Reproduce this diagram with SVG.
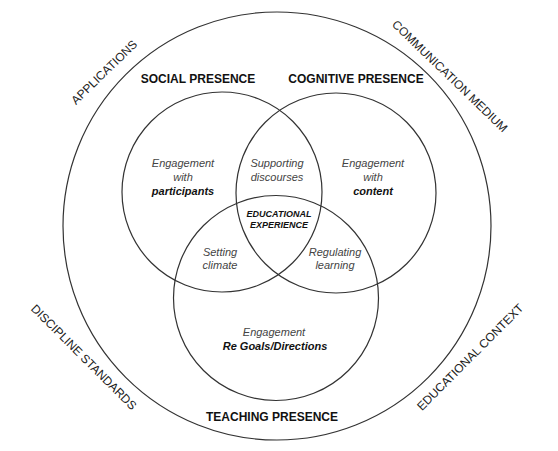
<svg xmlns="http://www.w3.org/2000/svg" width="558" height="451" viewBox="0 0 558 451">
<style>
.c{fill:none;stroke:#333;stroke-width:1.2}
text{font-family:"Liberation Sans",Arial,sans-serif;text-anchor:middle}
.h{font-size:12px;font-weight:bold;fill:#111}
.o{font-size:12px;fill:#222}
.i{font-size:11px;font-style:italic;fill:#444}
.b{font-weight:bold;fill:#111}
.e{font-size:9px;font-style:italic;font-weight:bold;fill:#111}
</style>
<rect width="558" height="451" fill="#fff"/>
<g id="outer">
<circle class="c" cx="277" cy="226" r="214"/>
<text class="o" transform="translate(104,72) rotate(-44)" y="4.3">APPLICATIONS</text>
<text class="o" transform="translate(450,76) rotate(44)" y="4.3">COMMUNICATION MEDIUM</text>
<text class="o" transform="translate(84,357) rotate(45)" y="4.3">DISCIPLINE STANDARDS</text>
<text class="o" transform="translate(470,357) rotate(-45)" y="4.3">EDUCATIONAL CONTEXT</text>
</g>
<g id="social">
<circle class="c" cx="222" cy="192" r="100"/>
<text class="h" x="198" y="82.5">SOCIAL PRESENCE</text>
<text class="i" x="183" y="167">Engagement</text>
<text class="i" x="183" y="181">with</text>
<text class="i b" x="183" y="195">participants</text>
</g>
<g id="cognitive">
<circle class="c" cx="336" cy="193" r="100"/>
<text class="h" x="356" y="82.5">COGNITIVE PRESENCE</text>
<text class="i" x="373" y="167">Engagement</text>
<text class="i" x="373" y="181">with</text>
<text class="i b" x="373" y="195">content</text>
</g>
<g id="teaching">
<circle class="c" cx="276" cy="298" r="102.5"/>
<text class="h" x="272" y="421">TEACHING PRESENCE</text>
<text class="i" x="274" y="336">Engagement</text>
<text class="i b" x="275" y="349.5">Re Goals/Directions</text>
</g>
<g id="overlaps">
<text class="i" x="277" y="167">Supporting</text>
<text class="i" x="277" y="181">discourses</text>
<text class="e" x="279" y="217">EDUCATIONAL</text>
<text class="e" x="279" y="228">EXPERIENCE</text>
<text class="i" x="220" y="256">Setting</text>
<text class="i" x="220" y="269">climate</text>
<text class="i" x="335" y="256">Regulating</text>
<text class="i" x="335" y="269">learning</text>
</g>
<g id="connectors"></g>
</svg>
